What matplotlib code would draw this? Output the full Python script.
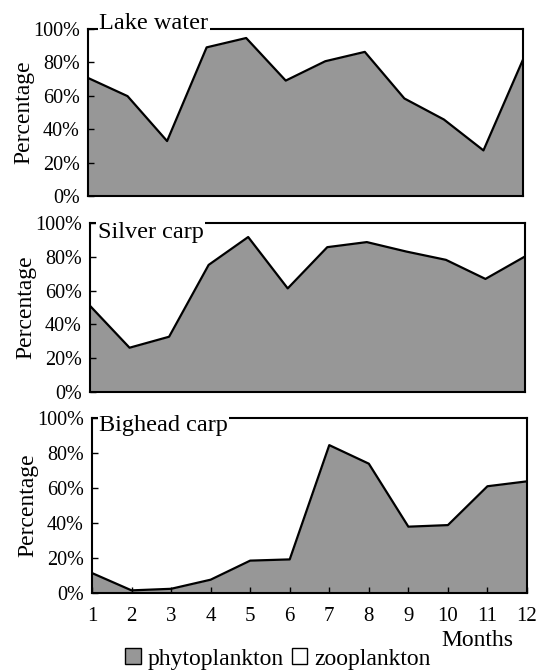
import numpy as np
import matplotlib
matplotlib.use('Agg')
from matplotlib import pyplot as plt
from matplotlib.patches import Patch
from matplotlib.ticker import PercentFormatter

plt.rcParams['font.family'] = ['Liberation Serif', 'DejaVu Serif']

months = [1, 2, 3, 4, 5, 6, 7, 8, 9, 10, 11, 12]
lake_water = [70.7, 59.8, 32.9, 89.0, 94.6, 69.1, 80.7, 86.3, 58.4, 45.8, 27.3, 81.7]
silver_carp = [51.0, 26.2, 32.7, 75.2, 91.7, 61.3, 85.7, 88.7, 83.1, 78.2, 66.9, 80.2]
bighead_carp = [11.4, 1.5, 2.4, 7.6, 18.5, 19.2, 84.5, 73.9, 37.9, 38.8, 61.0, 63.8]
panel_names = ['Lake water', 'Silver carp', 'Bighead carp']
legend_labels = ['phytoplankton', 'zooplankton']

W, H = 542, 670
fig = plt.figure(figsize=(W / 100, H / 100), dpi=100)

# axes boxes in pixels: left, top, right, bottom
boxes = [(88, 29, 523, 196), (90, 223, 525, 392), (92, 418, 527, 593)]
# title baseline offset below the top spine, pixels
title_drop = [0, 15, 13]
title_x = [0.026, 0.018, 0.016]
series = [lake_water, silver_carp, bighead_carp]
gray = '#979797'

for i, (box, vals, name) in enumerate(zip(boxes, series, panel_names)):
    l, t, r, b = box
    ax = fig.add_axes([l / W, 1 - b / H, (r - l) / W, (b - t) / H])
    ax.fill_between(months, vals, 0, color=gray, lw=0)
    ax.plot(months, vals, color='black', lw=1.6)
    ax.set_xlim(1, 12)
    ax.set_ylim(0, 100)
    ax.set_yticks([0, 20, 40, 60, 80, 100])
    ax.yaxis.set_major_formatter(PercentFormatter(decimals=0))
    ax.tick_params(axis='y', direction='in', length=4.5, width=1, pad=6, labelsize=14.5)
    for s in ax.spines.values():
        s.set_linewidth(1.5)
    ax.set_ylabel('Percentage', fontsize=17, labelpad=-1)
    if i < 2:
        ax.set_xticks([])
    else:
        ax.set_xticks(months)
        ax.tick_params(axis='x', direction='in', length=4.5, width=1,
                       pad=10, labelsize=15)
    ypos = 1 - title_drop[i] / (b - t)
    ax.text(title_x[i], ypos, name, transform=ax.transAxes, fontsize=17.5,
            va='baseline', ha='left', zorder=5, clip_on=False,
            bbox=dict(facecolor='white', edgecolor='none', pad=1))

fig.text(477 / W, 1 - 640 / H, 'Months', fontsize=17, ha='center', va='center')

handles = [Patch(facecolor=gray, edgecolor='black', lw=1),
           Patch(facecolor='white', edgecolor='black', lw=1)]
fig.legend(handles, legend_labels, loc='center', bbox_to_anchor=(278 / W, 1 - 659 / H),
           ncol=2, frameon=False, fontsize=17, handlelength=0.65, handleheight=0.65,
           handletextpad=0.3, columnspacing=0.35, borderpad=0)

fig.savefig('out.png', dpi=100)
